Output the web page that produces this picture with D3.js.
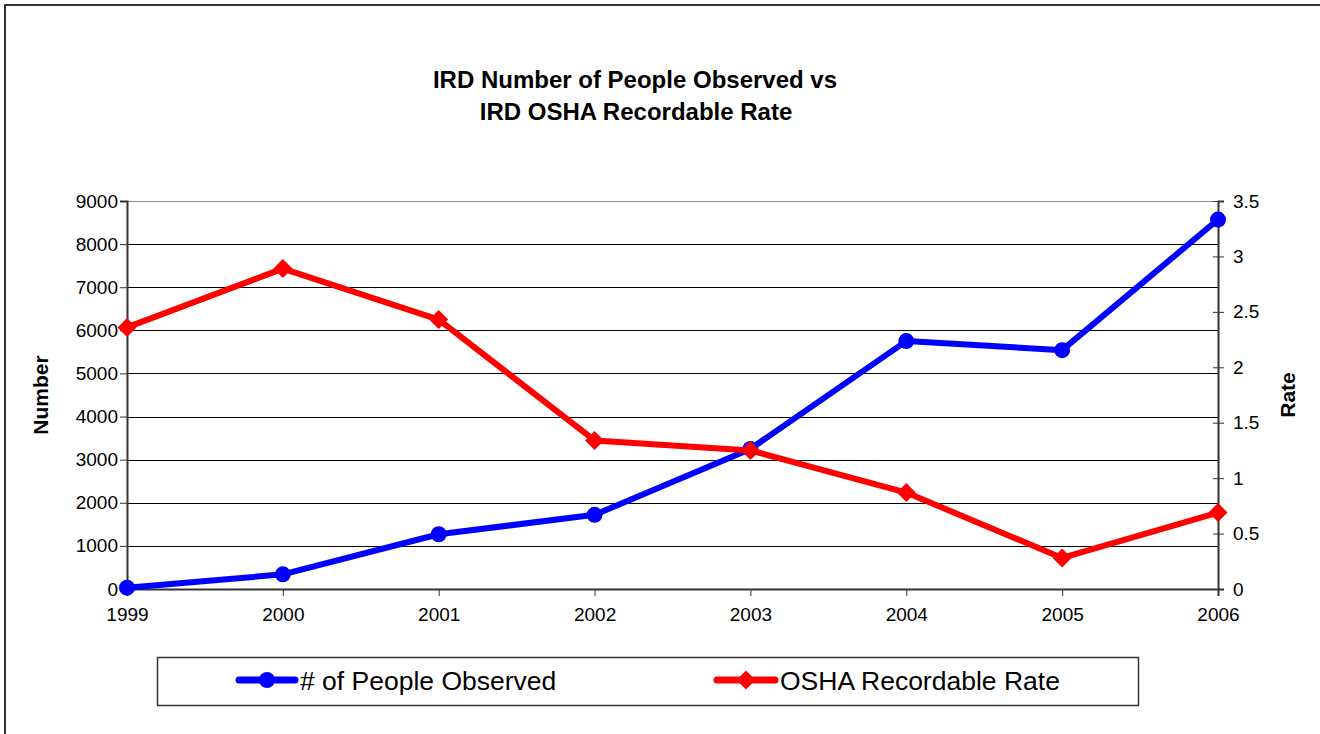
<!DOCTYPE html>
<html lang="en">
<head>
    <meta charset="UTF-8">
    <script src="https://d3js.org/d3.v7.min.js"></script>
    <style>
        body { margin: 0; background: #fff; }
        text { font-family: "Liberation Sans", Arial, sans-serif; }
    </style>
</head>
<body>
    <svg id="chart" width="1320" height="734"></svg>

    <script>
        const years = ["1999", "2000", "2001", "2002", "2003", "2004", "2005", "2006"];
        const peopleObserved = [30, 340, 1270, 1720, 3250, 5750, 5540, 8570];
        const oshaRate = [2.36, 2.89, 2.43, 1.34, 1.25, 0.87, 0.28, 0.69];
        const leftTicks = [0, 1000, 2000, 3000, 4000, 5000, 6000, 7000, 8000, 9000];
        const rightTicks = [0, 0.5, 1, 1.5, 2, 2.5, 3, 3.5];

        const svg = d3.select("#chart");
        const plot = { left: 127, right: 1218, top: 201, bottom: 589 };
        const tickFont = 19;

        // outer chart border
        svg.append("rect")
            .attr("x", 5).attr("y", 5)
            .attr("width", 1330).attr("height", 740)
            .attr("fill", "#fff").attr("stroke", "#333").attr("stroke-width", 2);

        const x = d3.scalePoint().domain(years).range([plot.left, plot.right]);
        const yL = d3.scaleLinear().domain([0, 9000]).range([plot.bottom, plot.top]);
        const yR = d3.scaleLinear().domain([0, 3.5]).range([plot.bottom, plot.top]);

        // gridlines
        svg.append("g").selectAll("line")
            .data(leftTicks.slice(1))
            .enter().append("line")
            .attr("x1", plot.left).attr("x2", plot.right)
            .attr("y1", d => Math.round(yL(d)) + 0.5).attr("y2", d => Math.round(yL(d)) + 0.5)
            .attr("stroke", d => d === 9000 ? "#888" : "#000")
            .attr("stroke-width", 1);

        function styleAxis(g) {
            g.select(".domain").attr("stroke", "#333").attr("stroke-width", 2);
            g.selectAll(".tick line").attr("stroke", "#333");
            g.selectAll("text").attr("font-size", tickFont).attr("fill", "#000")
                .style("font-family", "'Liberation Sans', Arial, sans-serif");
        }

        // left axis
        const leftAxis = svg.append("g")
            .attr("transform", `translate(${plot.left},0)`)
            .call(d3.axisLeft(yL).tickValues(leftTicks).tickSize(7).tickPadding(2).tickFormat(d3.format("d")));
        styleAxis(leftAxis);

        // right axis (ticks cross the axis)
        const rightAxis = svg.append("g")
            .attr("transform", `translate(${plot.right},0)`)
            .call(d3.axisRight(yR).tickValues(rightTicks).tickSize(6).tickPadding(9).tickFormat(d => d));
        styleAxis(rightAxis);
        rightAxis.selectAll(".tick line").attr("x1", -5);

        // bottom axis
        const bottomAxis = svg.append("g")
            .attr("transform", `translate(0,${plot.bottom})`)
            .call(d3.axisBottom(x).tickSize(7).tickPadding(12));
        styleAxis(bottomAxis);

        // series lines
        const blueLine = d3.line().x((d, i) => x(years[i])).y(d => yL(d));
        const redLine = d3.line().x((d, i) => x(years[i])).y(d => yR(d));

        svg.append("path").datum(peopleObserved)
            .attr("d", blueLine).attr("fill", "none")
            .attr("stroke", "#0000ff").attr("stroke-width", 6).attr("stroke-linejoin", "round");
        svg.selectAll(".dot").data(peopleObserved)
            .enter().append("circle").attr("class", "dot")
            .attr("cx", (d, i) => x(years[i])).attr("cy", d => yL(d))
            .attr("r", 8).attr("fill", "#0000ff");

        svg.append("path").datum(oshaRate)
            .attr("d", redLine).attr("fill", "none")
            .attr("stroke", "#ff0000").attr("stroke-width", 6).attr("stroke-linejoin", "round");
        const diamond = d3.symbol().type(d3.symbolDiamond2).size(230);
        svg.selectAll(".dia").data(oshaRate)
            .enter().append("path").attr("class", "dia")
            .attr("transform", (d, i) => `translate(${x(years[i])},${yR(d)})`)
            .attr("d", diamond).attr("fill", "#ff0000");

        // title
        const title = svg.append("text").attr("text-anchor", "middle")
            .attr("font-size", 24).attr("font-weight", "bold");
        title.append("tspan").attr("x", 635).attr("y", 88).text("IRD Number of People Observed vs");
        title.append("tspan").attr("x", 636).attr("y", 120).text("IRD OSHA Recordable Rate");

        // axis titles
        svg.append("text")
            .attr("transform", "translate(48,395) rotate(-90)")
            .attr("text-anchor", "middle").attr("font-size", 21).attr("font-weight", "bold")
            .text("Number");
        svg.append("text")
            .attr("transform", "translate(1295,395) rotate(-90)")
            .attr("text-anchor", "middle").attr("font-size", 21).attr("font-weight", "bold")
            .text("Rate");

        // legend
        const legend = svg.append("g");
        legend.append("rect")
            .attr("x", 157.5).attr("y", 657.5).attr("width", 981).attr("height", 48)
            .attr("fill", "#fff").attr("stroke", "#333").attr("stroke-width", 1.5);

        const blueKey = legend.append("g");
        blueKey.append("line").attr("x1", 239).attr("x2", 295).attr("y1", 680).attr("y2", 680)
            .attr("stroke", "#0000ff").attr("stroke-width", 7).attr("stroke-linecap", "round");
        blueKey.append("circle").attr("cx", 267).attr("cy", 680).attr("r", 8).attr("fill", "#0000ff");
        blueKey.append("text").attr("x", 300).attr("y", 690).attr("font-size", 26.5)
            .text("# of People Observed");

        const redKey = legend.append("g");
        redKey.append("line").attr("x1", 717).attr("x2", 775).attr("y1", 680).attr("y2", 680)
            .attr("stroke", "#ff0000").attr("stroke-width", 7).attr("stroke-linecap", "round");
        redKey.append("path").attr("transform", "translate(746,680)")
            .attr("d", diamond).attr("fill", "#ff0000");
        redKey.append("text").attr("x", 780).attr("y", 690).attr("font-size", 26.5)
            .text("OSHA Recordable Rate");
    </script>
</body>
</html>
